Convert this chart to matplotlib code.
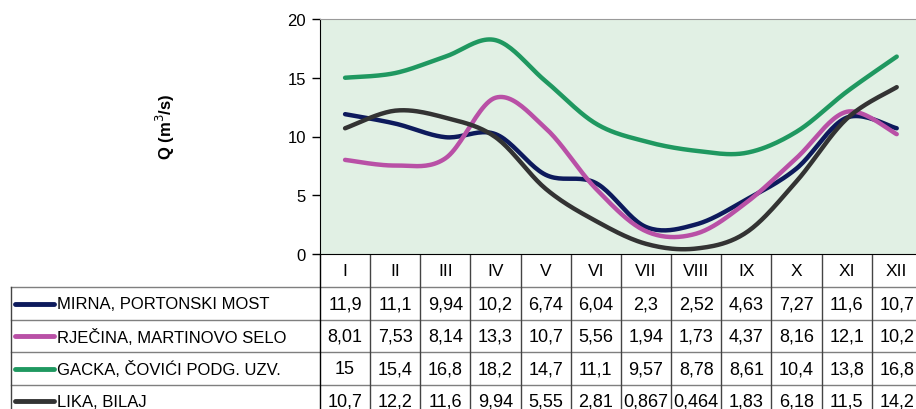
import numpy as np
from matplotlib import pyplot as plt

plt.rcParams['font.family'] = ['Liberation Sans', 'DejaVu Sans']

months = ['I', 'II', 'III', 'IV', 'V', 'VI', 'VII', 'VIII', 'IX', 'X', 'XI', 'XII']
stations = ['MIRNA, PORTONSKI MOST', 'RJEČINA, MARTINOVO SELO',
            'GACKA, ČOVIĆI PODG. UZV.', 'LIKA, BILAJ']
mirna = [11.9, 11.1, 9.94, 10.2, 6.74, 6.04, 2.3, 2.52, 4.63, 7.27, 11.6, 10.7]
rjecina = [8.01, 7.53, 8.14, 13.3, 10.7, 5.56, 1.94, 1.73, 4.37, 8.16, 12.1, 10.2]
gacka = [15, 15.4, 16.8, 18.2, 14.7, 11.1, 9.57, 8.78, 8.61, 10.4, 13.8, 16.8]
lika = [10.7, 12.2, 11.6, 9.94, 5.55, 2.81, 0.867, 0.464, 1.83, 6.18, 11.5, 14.2]
series = [mirna, rjecina, gacka, lika]
colors = ['#0d1a5c', '#b950a6', '#1f9860', '#333333']


def smooth(y, n=24):
    # Excel-like smoothed line: cubic bezier through the points
    pts = np.column_stack([np.arange(len(y)), y]).astype(float)
    p = np.vstack([pts[0], pts, pts[-1]])
    t = np.linspace(0, 1, n)[:, None]
    out = []
    for i in range(len(pts) - 1):
        p0, p1, p2, p3 = p[i], p[i + 1], p[i + 2], p[i + 3]
        c1 = p1 + (p2 - p0) / 6
        c2 = p2 - (p3 - p1) / 6
        out.append((1 - t)**3 * p1 + 3 * (1 - t)**2 * t * c1 + 3 * (1 - t) * t**2 * c2 + t**3 * p2)
    return np.vstack(out)


W, H = 916, 410
x0 = 320          # left edge of plot / table columns (px)
cw = 50.15        # column width (px)
top, bot = 20, 255
row_top = [255, 288.3, 320.8, 353.3, 385.8, 418.3]

fig = plt.figure(figsize=(W / 100, H / 100), dpi=100)

# table drawn in pixel space
tab = fig.add_axes([0, 0, 1, 1])
tab.set_xlim(0, W)
tab.set_ylim(H, 0)
tab.axis('off')

ax = fig.add_axes([x0 / W, (H - bot) / H, 12 * cw / W, (bot - top) / H])
ax.set_facecolor('#e1f0e4')
for s, c in zip(series, colors):
    xy = smooth(s)
    ax.plot(xy[:, 0], xy[:, 1], color=c, lw=3.2, solid_capstyle='round')
ax.set_xlim(-0.5, 11.5)
ax.set_ylim(0, 20)
ax.set_yticks([0, 5, 10, 15, 20])
ax.set_xticks([])
ax.tick_params(axis='y', labelsize=12, length=6, width=1, pad=4)
ax.spines['top'].set_color('#9a9a9a')
ax.spines['right'].set_visible(False)
ax.spines['left'].set_color('black')
ax.spines['bottom'].set_color('black')
fig.text(165 / W, 1 - 127 / H, 'Q (m$^3$/s)', rotation=90, ha='center', va='center',
         fontsize=12, fontweight='bold')

xr = x0 + 12 * cw
# horizontal lines
for y in row_top[1:5]:
    tab.plot([11, xr], [y, y], color='#7f7f7f', lw=1)
# vertical lines
tab.plot([x0, x0], [bot, H], color='black', lw=1)
tab.plot([11, 11], [row_top[1], H], color='#444444', lw=1)
for k in range(1, 12):
    xv = x0 + k * cw
    tab.plot([xv, xv], [bot, H], color='#444444', lw=1)

# header
for k, m in enumerate(months):
    tab.text(x0 + (k + 0.5) * cw, (row_top[0] + row_top[1]) / 2, m, ha='center', va='center',
             fontsize=12.5)

# rows
for r, (name, s, c) in enumerate(zip(stations, series, colors)):
    yc = (row_top[r + 1] + row_top[r + 2]) / 2
    tab.plot([15, 54], [yc, yc], color=c, lw=3.5, solid_capstyle='round')
    tab.text(57, yc, name, ha='left', va='center', fontsize=12)
    for k, v in enumerate(s):
        tab.text(x0 + (k + 0.5) * cw, yc, f'{v:g}'.replace('.', ','), ha='center', va='center',
                 fontsize=13)

fig.savefig('out.png', dpi=100)
